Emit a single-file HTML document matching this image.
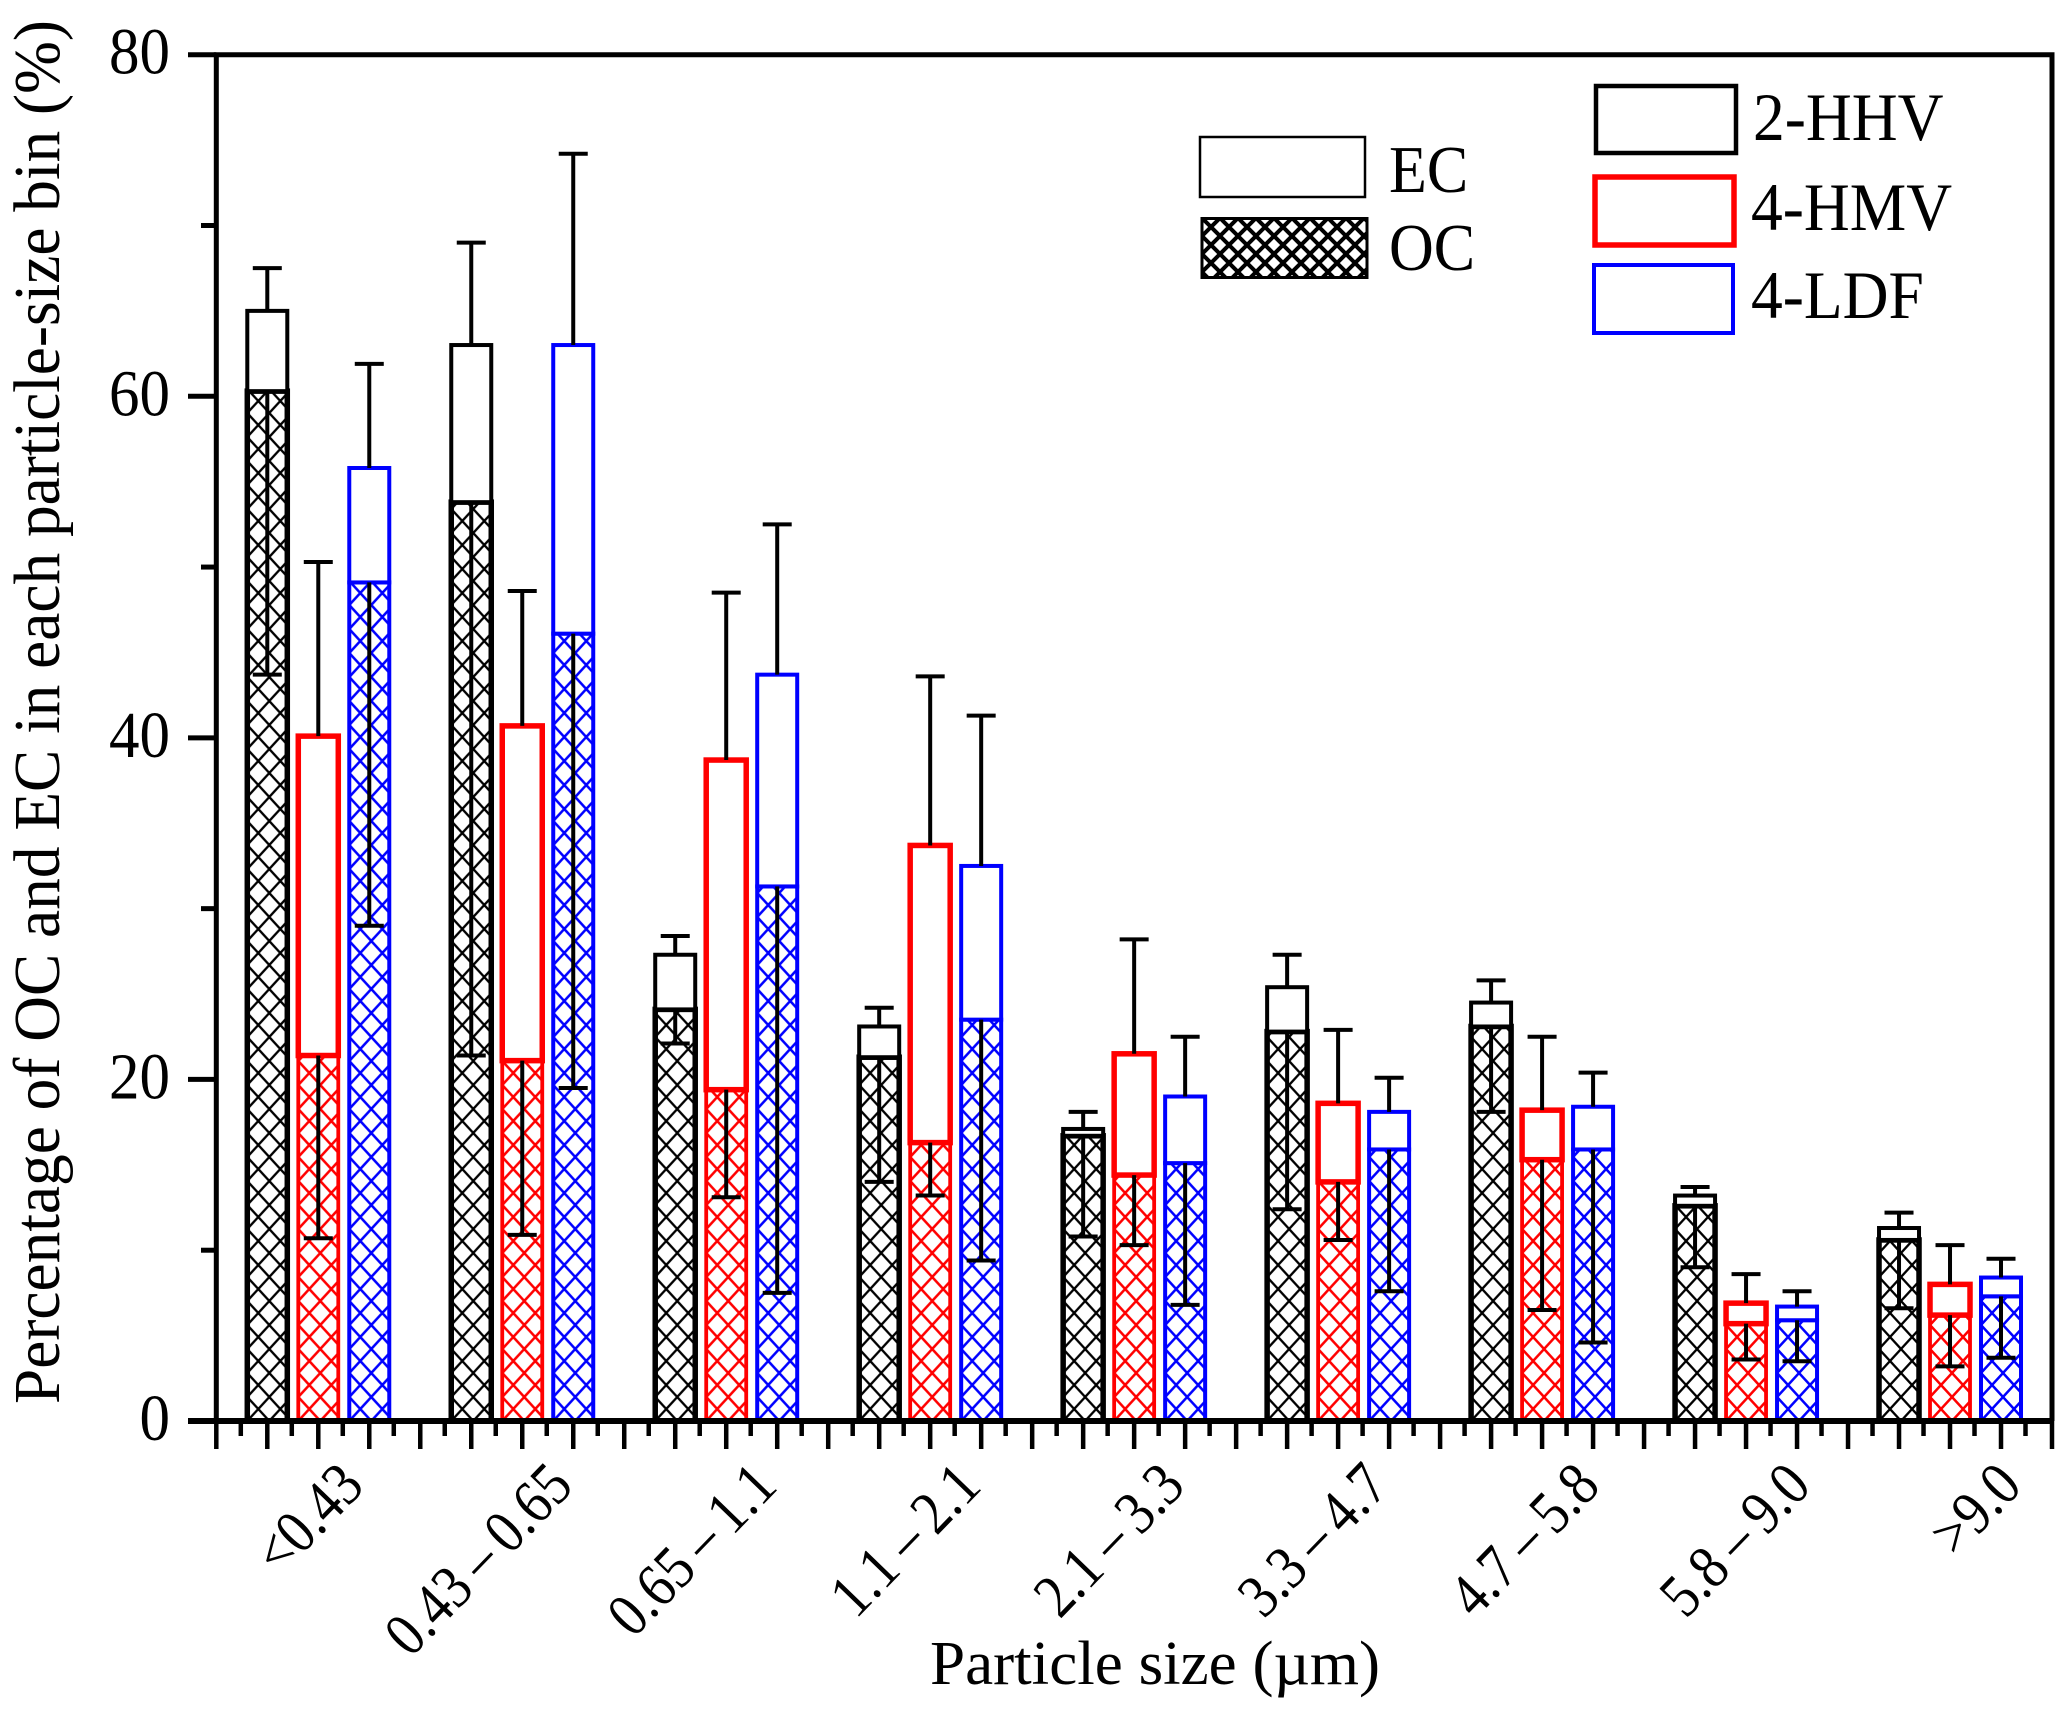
<!DOCTYPE html>
<html lang="en">
<head>
<meta charset="utf-8">
<title>OC and EC percentage by particle size</title>
<style>
html,body{margin:0;padding:0;background:#fff;}
svg{display:block;}
text{font-family:"Liberation Serif",serif;fill:#000;}
</style>
</head>
<body>
<svg id="chart" xmlns="http://www.w3.org/2000/svg" width="2067" height="1716" viewBox="0 0 2067 1716">
  <defs id="defs">
    <pattern id="legend-hatch" patternUnits="userSpaceOnUse" width="18" height="18" x="1202" y="218">
      <path d="M0 0L18 18M18 0L0 18" stroke="#000" stroke-width="4" fill="none"/>
    </pattern>
  </defs>
  <rect x="0" y="0" width="2067" height="1716" fill="#fff"/>
  <g id="bars"></g>
  <g id="axes"></g>
  <text transform="translate(59,1404) rotate(-90)" font-size="66" textLength="1384" lengthAdjust="spacingAndGlyphs">Percentage of OC and EC in each particle-size bin (%)</text>
  <text x="930" y="1684" font-size="62" textLength="450" lengthAdjust="spacingAndGlyphs">Particle size (µm)</text>

  <g>
    <rect x="1200" y="137" width="165" height="60" fill="#fff" stroke="#000" stroke-width="2.5"/>
    <text transform="translate(1389,192) scale(1,1.07)" font-size="62">EC</text>
    <rect x="1202" y="218.5" width="165" height="59" fill="url(#legend-hatch)" stroke="#000" stroke-width="3"/>
    <text transform="translate(1389,270) scale(1,1.07)" font-size="62">OC</text>
  </g>
  <g>
    <rect x="1596" y="86" width="140" height="67" fill="#fff" stroke="#000" stroke-width="4.5"/>
    <text transform="translate(1753,140) scale(1,1.07)" font-size="63.5">2-HHV</text>
    <rect x="1595" y="177" width="139" height="68" fill="#fff" stroke="#f00" stroke-width="5.5"/>
    <text transform="translate(1751,230) scale(1,1.07)" font-size="63.5">4-HMV</text>
    <rect x="1594" y="265" width="139" height="68" fill="#fff" stroke="#00f" stroke-width="4"/>
    <text transform="translate(1751,318) scale(1,1.07)" font-size="63.5">4-LDF</text>
  </g>
</svg>
<script>
// ---- chart data ----
const categories = ["<0.43","0.43\u2009–\u20090.65","0.65\u2009–\u20091.1","1.1\u2009–\u20092.1","2.1\u2009–\u20093.3","3.3\u2009–\u20094.7","4.7\u2009–\u20095.8","5.8\u2009–\u20099.0",">9.0"];
const yTickLabels = [0,20,40,60,80];

const hhvOC     = [60.3,53.8,24.1,21.3,16.7,22.8,23.1,12.6,10.6];
const hhvTotal  = [65.0,63.0,27.3,23.1,17.1,25.4,24.5,13.2,11.3];
const hhvErrTop = [67.5,69.0,28.4,24.2,18.1,27.3,25.8,13.7,12.2];
const hhvErrLow = [43.7,21.4,22.1,14.0,10.8,12.4,18.1, 9.0, 6.6];

const hmvOC     = [21.4,21.1,19.4,16.3,14.4,14.0,15.3, 5.7, 6.2];
const hmvTotal  = [40.1,40.7,38.7,33.7,21.5,18.6,18.2, 6.9, 8.0];
const hmvErrTop = [50.3,48.6,48.5,43.6,28.2,22.9,22.5, 8.6,10.3];
const hmvErrLow = [10.7,10.9,13.1,13.2,10.3,10.6, 6.5, 3.6, 3.2];

const ldfOC     = [49.1,46.1,31.3,23.5,15.1,15.9,15.9, 5.9, 7.3];
const ldfTotal  = [55.8,63.0,43.7,32.5,19.0,18.1,18.4, 6.7, 8.4];
const ldfErrTop = [61.9,74.2,52.5,41.3,22.5,20.1,20.4, 7.6, 9.5];
const ldfErrLow = [29.0,19.5, 7.5, 9.4, 6.8, 7.6, 4.6, 3.5, 3.7];

// ---- axis functions ----
const NS = "http://www.w3.org/2000/svg";
const plotLeft = 216.3, plotRight = 2052, plotBottom = 1421, plotTop = 54.7;
const yMax = 80, slotsPerGroup = 4;
const slotWidth = (plotRight - plotLeft) / (categories.length * slotsPerGroup);
function xScale(groupIndex, seriesIndex){ return plotLeft + (groupIndex * slotsPerGroup + seriesIndex + 1) * slotWidth; }
function yScale(v){ return plotBottom - (v / yMax) * (plotBottom - plotTop); }
function make(tag, attrs){
  const n = document.createElementNS(NS, tag);
  for (const k in attrs) n.setAttribute(k, attrs[k]);
  return n;
}

const barsLayer = document.getElementById("bars");
const axesLayer = document.getElementById("axes");
const defs = document.getElementById("defs");

const seriesList = [
  {key:"2hhv", color:"#000", oc:hhvOC, total:hhvTotal, top:hhvErrTop, low:hhvErrLow, ecW:4,   ocW:5.5, hatchW:2.3},
  {key:"4hmv", color:"#f00", oc:hmvOC, total:hmvTotal, top:hmvErrTop, low:hmvErrLow, ecW:5.5, ocW:3.8, hatchW:2.5},
  {key:"4ldf", color:"#00f", oc:ldfOC, total:ldfTotal, top:ldfErrTop, low:ldfErrLow, ecW:4,   ocW:4,   hatchW:2.5}
];
const barW = 40, capW = 29;

seriesList.forEach(function(s, si){
  categories.forEach(function(cat, gi){
    const cx = xScale(gi, si);
    const left = cx - barW / 2;

    const pid = "hatch-" + s.key + "-" + gi;
    const pat = make("pattern", {id:pid, patternUnits:"userSpaceOnUse", width:22, height:24, x:left, y:plotBottom});
    pat.appendChild(make("path", {d:"M0 0L22 24M22 0L0 24", stroke:s.color, "stroke-width":s.hatchW, fill:"none"}));
    defs.appendChild(pat);

    const ocRect = make("rect", {x:left, y:yScale(s.oc[gi]), width:barW, height:plotBottom - yScale(s.oc[gi]), fill:"url(#" + pid + ")", stroke:s.color, "stroke-width":s.ocW});
    
    
    barsLayer.appendChild(ocRect);

    const ecRect = make("rect", {x:left, y:yScale(s.total[gi]), width:barW, height:yScale(s.oc[gi]) - yScale(s.total[gi]), fill:"#fff", stroke:s.color, "stroke-width":s.ecW});
    
    
    barsLayer.appendChild(ecRect);
  });
});

seriesList.forEach(function(s, si){
  categories.forEach(function(cat, gi){
    const cx = xScale(gi, si);
    const upper = make("path", {d:"M"+cx+" "+yScale(s.total[gi])+"V"+yScale(s.top[gi])+"M"+(cx-capW/2)+" "+yScale(s.top[gi])+"H"+(cx+capW/2), stroke:"#000", "stroke-width":4, fill:"none"});
    
    
    barsLayer.appendChild(upper);

    const lower = make("path", {d:"M"+cx+" "+yScale(s.oc[gi])+"V"+yScale(s.low[gi])+"M"+(cx-capW/2)+" "+yScale(s.low[gi])+"H"+(cx+capW/2), stroke:"#000", "stroke-width":4, fill:"none"});
    
    
    barsLayer.appendChild(lower);
  });
});

// ---- frame ----
const frame = make("path", {d:"M"+plotLeft+" "+plotBottom+"V"+plotTop+"H"+plotRight+"V"+plotBottom, fill:"none", stroke:"#000", "stroke-width":5});


axesLayer.appendChild(frame);

const xAxisLine = make("line", {x1:188, x2:plotRight + 2, y1:plotBottom, y2:plotBottom, stroke:"#000", "stroke-width":6});


axesLayer.appendChild(xAxisLine);

// ---- x ticks ----
const totalSlots = categories.length * slotsPerGroup;
for (let t = 0; t <= totalSlots; t++){
  const xt = plotLeft + t * slotWidth;
  const major = make("line", {x1:xt, x2:xt, y1:plotBottom, y2:plotBottom + 28, stroke:"#000", "stroke-width":4.5});
  
  
  axesLayer.appendChild(major);
  if (t < totalSlots){
    const minor = make("line", {x1:xt + slotWidth/2 - 1, x2:xt + slotWidth/2 - 1, y1:plotBottom, y2:plotBottom + 15, stroke:"#000", "stroke-width":4.5});
    
    
    axesLayer.appendChild(minor);
  }
}

// ---- y ticks and labels ----
yTickLabels.forEach(function(v, i){
  const y = yScale(v);
  const tick = make("line", {x1:188, x2:plotLeft, y1:y, y2:y, stroke:"#000", "stroke-width":5});
  
  
  axesLayer.appendChild(tick);

  const label = make("text", {transform:"translate(170," + (y + 19) + ") scale(1,1.08)", "font-size":61, "text-anchor":"end"});
  label.textContent = String(v);
  
  
  axesLayer.appendChild(label);

  if (i < yTickLabels.length - 1){
    const ym = yScale((v + yTickLabels[i + 1]) / 2);
    const mt = make("line", {x1:201, x2:plotLeft, y1:ym, y2:ym, stroke:"#000", "stroke-width":5});
    
    
    axesLayer.appendChild(mt);
  }
});

// ---- category labels ----
categories.forEach(function(cat, gi){
  const anchorX = xScale(gi, 1) + (gi === 0 ? 48 : 53) + Math.max(0, gi - 5) * 7;
  const t = make("text", {transform:"translate(" + anchorX + ",1488) rotate(-46) scale(0.87,1)", "font-size":62, "text-anchor":"end"});
  t.textContent = cat;
  
  
  axesLayer.appendChild(t);
});
</script>
</body>
</html>
